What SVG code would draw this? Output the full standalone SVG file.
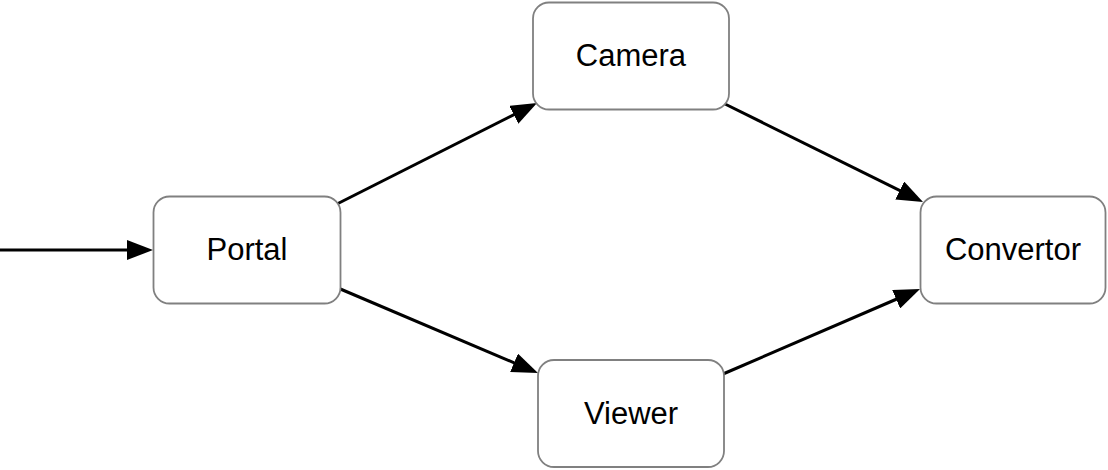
<svg xmlns="http://www.w3.org/2000/svg" width="1108" height="470" viewBox="0 0 1108 470">
<style>
.box{fill:#ffffff;stroke:#808080;stroke-width:1.8}
.lbl{font-family:"Liberation Sans",Arial,Helvetica,sans-serif;font-size:31px;fill:#000000;text-anchor:middle}
.edge{stroke:#000000;stroke-width:3;fill:none}
</style>
<defs>
<marker id="arr" viewBox="0 0 26 20" refX="2" refY="10" markerWidth="26" markerHeight="20" markerUnits="userSpaceOnUse" orient="auto">
<path d="M0,0 L26,10 L0,20 Z" fill="#000000"/>
</marker>
</defs>
<rect width="1108" height="470" fill="#ffffff"/>
<g id="connectors">
<line class="edge" x1="0" y1="250" x2="129" y2="250" marker-end="url(#arr)"/>
<line class="edge" x1="335" y1="205" x2="515.6" y2="113.8" marker-end="url(#arr)"/>
<line class="edge" x1="723" y1="103" x2="901.5" y2="191.35" marker-end="url(#arr)"/>
<line class="edge" x1="338" y1="288" x2="515.9" y2="363.6" marker-end="url(#arr)"/>
<line class="edge" x1="723" y1="374" x2="898" y2="298.5" marker-end="url(#arr)"/>
</g>
<g id="camera">
<rect class="box" x="533" y="2.5" width="196" height="107" rx="16" ry="16"/>
<text class="lbl" x="631" y="66">Camera</text>
</g>
<g id="portal">
<rect class="box" x="153.5" y="196.5" width="187" height="107" rx="16" ry="16"/>
<text class="lbl" x="247" y="260">Portal</text>
</g>
<g id="convertor">
<rect class="box" x="920.5" y="196.5" width="185" height="107" rx="16" ry="16"/>
<text class="lbl" x="1013" y="260">Convertor</text>
</g>
<g id="viewer">
<rect class="box" x="538" y="360" width="186" height="107" rx="16" ry="16"/>
<text class="lbl" x="631" y="424">Viewer</text>
</g>
</svg>
